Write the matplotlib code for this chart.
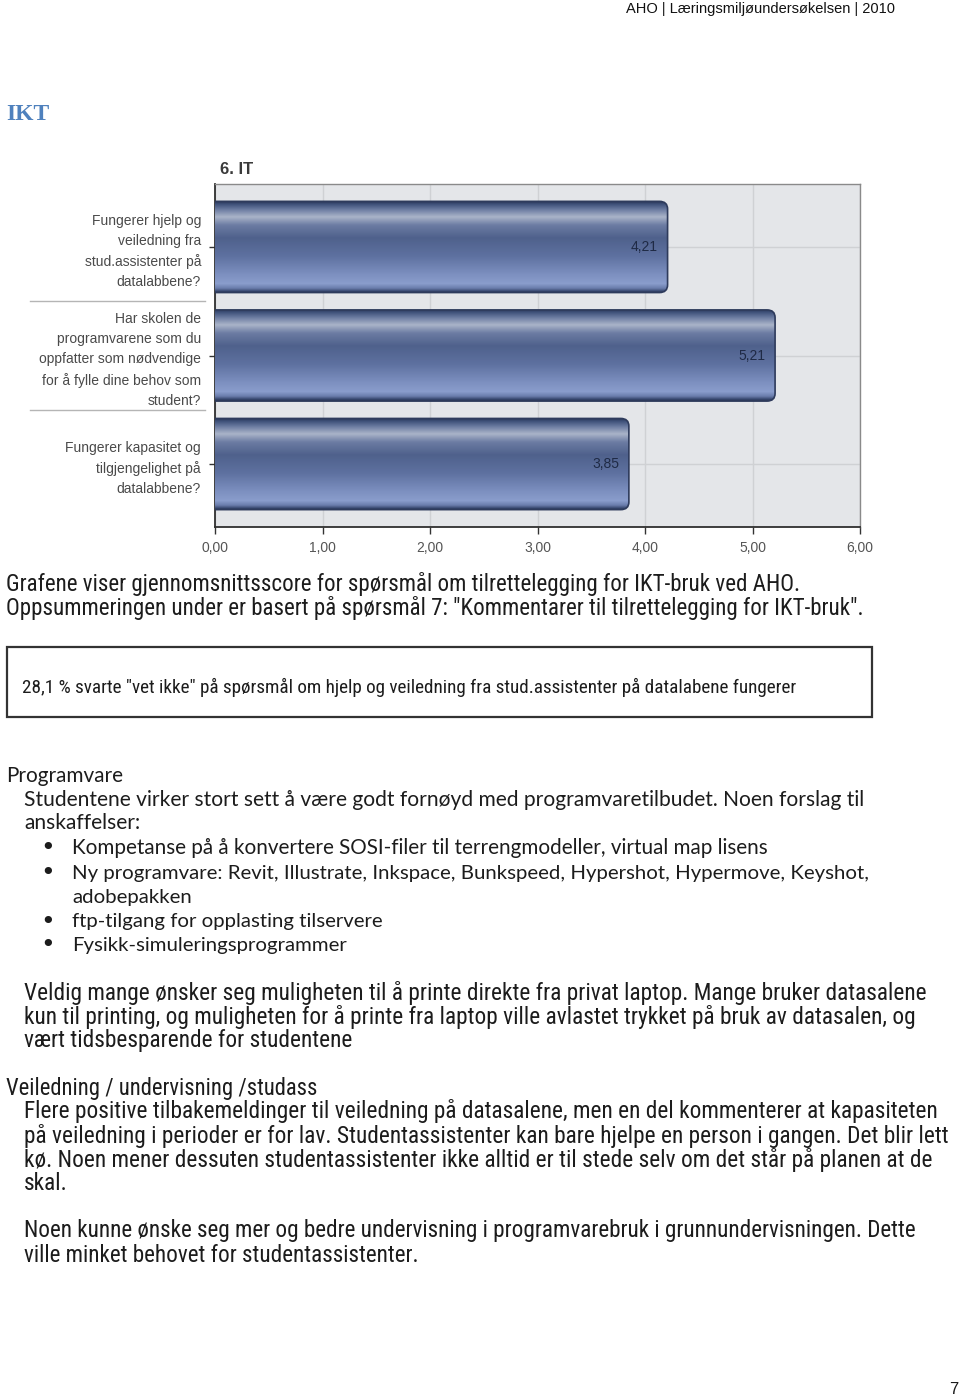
import numpy as np
import matplotlib
matplotlib.use('Agg')
import matplotlib.pyplot as plt
import matplotlib.transforms as mtransforms
from matplotlib import font_manager
from matplotlib.patches import FancyBboxPatch, Rectangle
from matplotlib.colors import to_rgb

# chart data
questions = [
    'Fungerer hjelp og\nveiledning fra\nstud.assistenter på\ndatalabbene?',
    'Har skolen de\nprogramvarene som du\noppfatter som nødvendige\nfor å fylle dine behov som\nstudent?',
    'Fungerer kapasitet og\ntilgjengelighet på\ndatalabbene?',
]
scores = [4.21, 5.21, 3.85]
score_labels = ['4,21', '5,21', '3,85']
x_ticks = [0, 1, 2, 3, 4, 5, 6]
x_tick_labels = ['0,00', '1,00', '2,00', '3,00', '4,00', '5,00', '6,00']
chart_title = '6. IT'

# page text
header = 'AHO | Læringsmiljøundersøkelsen | 2010'
section = 'IKT'
intro = ['Grafene viser gjennomsnittsscore for spørsmål om tilrettelegging for IKT-bruk ved AHO.',
         'Oppsummeringen under er basert på spørsmål 7: "Kommentarer til tilrettelegging for IKT-bruk".']
box_text = '28,1 % svarte "vet ikke" på spørsmål om hjelp og veiledning fra stud.assistenter på datalabene fungerer'
head1 = 'Programvare'
para1 = ['Studentene virker stort sett å være godt fornøyd med programvaretilbudet. Noen forslag til',
         'anskaffelser:']
bullets = ['Kompetanse på å konvertere SOSI-filer til terrengmodeller, virtual map lisens',
           'Ny programvare: Revit, Illustrate, Inkspace, Bunkspeed, Hypershot, Hypermove, Keyshot,',
           'adobepakken',
           'ftp-tilgang for opplasting tilservere',
           'Fysikk-simuleringsprogrammer']
bullet_marks = [True, True, False, True, True]
para2 = ['Veldig mange ønsker seg muligheten til å printe direkte fra privat laptop. Mange bruker datasalene',
         'kun til printing, og muligheten for å printe fra laptop ville avlastet trykket på bruk av datasalen, og',
         'vært tidsbesparende for studentene']
head2 = 'Veiledning / undervisning /studass'
para3 = ['Flere positive tilbakemeldinger til veiledning på datasalene, men en del kommenterer at kapasiteten',
         'på veiledning i perioder er for lav. Studentassistenter kan bare hjelpe en person i gangen. Det blir lett',
         'kø. Noen mener dessuten studentassistenter ikke alltid er til stede selv om det står på planen at de',
         'skal.']
para4 = ['Noen kunne ønske seg mer og bedre undervisning i programvarebruk i grunnundervisningen. Dette',
         'ville minket behovet for studentassistenter.']
page_no = '7'

W, H = 960, 1399
installed = {f.name for f in font_manager.fontManager.ttflist}


def pick(names):
    for n in names:
        if n in installed:
            return n
    return 'DejaVu Sans'


ARIAL = pick(['Liberation Sans', 'Arimo', 'DejaVu Sans'])
SERIF = pick(['Liberation Serif', 'DejaVu Serif'])
WIDE = pick(['Lato', 'Noto Sans', 'DejaVu Sans'])
NARROW = pick(['Liberation Sans Narrow', 'Roboto Condensed', 'Roboto', 'DejaVu Sans'])
TXT = '#1c1c1c'


def fx(x):
    return x / W


def fy(y):
    return 1 - y / H


fig = plt.figure(figsize=(W / 100, H / 100), dpi=100)
renderer = fig.canvas.get_renderer()

# ---------------- chart ----------------
ax = fig.add_axes([fx(215), fy(527), (860 - 215) / W, (527 - 184) / H])
ax.set_facecolor('#e4e6e9')
ypos = np.arange(len(scores))[::-1]
ax.set_xticks(x_ticks)
ax.set_xticklabels(x_tick_labels, fontsize=10, color='#555555', family=ARIAL)
ax.set_yticks(ypos)
ax.set_yticklabels(questions, fontsize=10, color='#4a4a4a', family=ARIAL,
                   linespacing=1.55)
ax.tick_params(axis='x', length=5, width=1, color='#333333', pad=5)
ax.tick_params(axis='y', length=4, width=1, color='#333333', pad=6)
ax.grid(True, color='#cfd1d4', linewidth=1)
ax.set_axisbelow(True)
for s in ['left', 'bottom']:
    ax.spines[s].set_color('#2f2f2f')
    ax.spines[s].set_linewidth(1.3)
for s in ['top', 'right']:
    ax.spines[s].set_color('#8a8a8a')
    ax.spines[s].set_linewidth(1)

# gradient profile of the bars (top -> bottom)
stops = [0.0, 0.03, 0.09, 0.17, 0.26, 0.40, 0.60, 0.80, 0.90, 0.95, 0.985, 1.0]
cols = ['#2a3656', '#3d4f78', '#6b7ba1', '#aab4c9', '#6c7ca3', '#4f618c',
        '#5e71a0', '#7d90c0', '#8a9dcc', '#6a7cab', '#34446a', '#2a3656']
rgb = np.array([to_rgb(c) for c in cols])
t = np.linspace(0, 1, 200)
grad = np.stack([np.interp(t, stops, rgb[:, k]) for k in range(3)], axis=1)[:, None, :]

bars = ax.barh(ypos, scores, height=0.84, color='none', edgecolor='none')
for rect, lab in zip(bars.patches, score_labels):
    x0, y0 = rect.get_x(), rect.get_y()
    w, h = rect.get_width(), rect.get_height()
    shape = FancyBboxPatch((x0 - 0.1, y0), w + 0.1, h,
                           boxstyle='round,pad=0,rounding_size=0.075',
                           mutation_aspect=0.94, facecolor='none',
                           edgecolor='#2e3b5c', linewidth=1.2, zorder=4)
    ax.add_patch(shape)
    im = ax.imshow(grad, extent=(x0, x0 + w, y0, y0 + h), aspect='auto',
                   origin='upper', zorder=3, interpolation='bilinear')
    im.set_clip_path(shape)
    ax.text(w - 0.09, y0 + h / 2, lab, ha='right', va='center', fontsize=10,
            color='#1f2a45', family=ARIAL, zorder=5)
ax.set_xlim(0, 6)
ax.set_ylim(-0.58, len(scores) - 0.42)

# separators between question labels
sep = mtransforms.blended_transform_factory(fig.transFigure, ax.transData)
for yb in ypos[:-1] - 0.5:
    ax.plot([fx(30), fx(205)], [yb, yb], transform=sep, color='#b5b5b5',
            linewidth=1, clip_on=False)

fig.text(fx(220), fy(169), chart_title, fontsize=12, fontweight='bold',
         color='#3a3a3a', family=ARIAL, va='center', ha='left')

# ---------------- page text ----------------
fig.text(fx(895), fy(9), header, fontsize=10.5, color='#111111',
         family=ARIAL, ha='right', va='center')
fig.text(fx(6), fy(115), section, fontsize=17, fontweight='bold',
         color='#4f81bd', family=SERIF, ha='left', va='center')


def block(lines, x, ys, width, family, base=12, **kw):
    items = [fig.text(fx(x), fy(y), s, fontsize=base, family=family,
                      color=TXT, ha='left', va='center', **kw)
             for s, y in zip(lines, ys)]
    cur = items[0].get_window_extent(renderer).width
    for it in items:
        it.set_fontsize(base * width / cur)
    return items


block(intro, 6, [584, 608], 800 - 6, NARROW)

fig.add_artist(Rectangle((fx(7), fy(717)), (872 - 7) / W, (717 - 647) / H,
                         transform=fig.transFigure, facecolor='none',
                         edgecolor='#333333', linewidth=1.6))
block([box_text], 22, [687], 795 - 22, NARROW)

block([head1], 6, [776], 123 - 6, WIDE)
block(para1, 24, [800, 823], 859 - 24, WIDE)
bl_y = [848, 873, 897, 922, 945]
block(bullets[1:], 72, bl_y[1:], 863 - 72, WIDE)
block(bullets[:1], 72, bl_y[:1], 767 - 72, WIDE)
for y, m in zip(bl_y, bullet_marks):
    if m:
        fig.text(fx(40), fy(y), '•', fontsize=18, color=TXT, family='DejaVu Sans',
                 ha='left', va='center')

block(para2, 24, [993, 1017, 1041], 928 - 24, NARROW)
block([head2], 6, [1088], 316 - 6, NARROW)
block(para3, 24, [1111, 1136, 1160, 1184], 936 - 24, NARROW)
block(para4, 24, [1231, 1255], 918 - 24, NARROW)

fig.text(fx(958), fy(1390), page_no, fontsize=12, color=TXT, family=ARIAL,
         ha='right', va='center')

fig.savefig('out.png', dpi=100)
